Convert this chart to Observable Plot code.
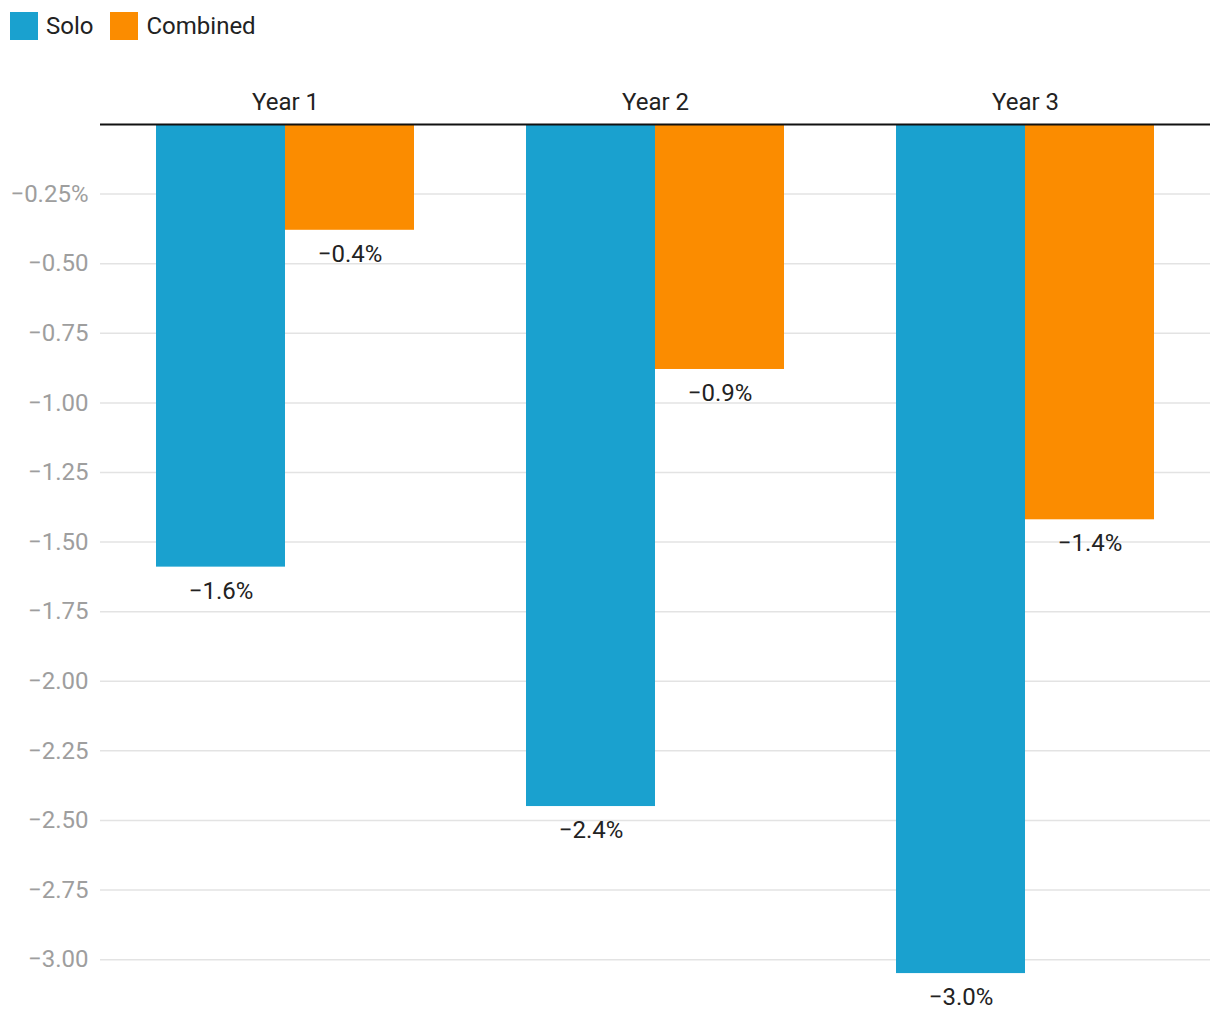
<!DOCTYPE html>
<html>
<head>
<meta charset="utf-8">
<script src="https://cdn.jsdelivr.net/npm/d3@7"></script>
<script src="https://cdn.jsdelivr.net/npm/@observablehq/plot@0.6"></script>
<style>
  html, body { margin: 0; padding: 0; background: #fff; font-family: Roboto, "Noto Sans", sans-serif; }
  #wrap { position: relative; width: 1220px; height: 1020px; }
  #legend { position: absolute; left: 10px; top: 12px; display: flex; align-items: center; font-size: 24px; color: #222; z-index: 2; line-height: 28px; }
  .item { display: flex; align-items: center; margin-right: 17px; }
  .sw { width: 28px; height: 28px; margin-right: 8px; }
  #chart { position: absolute; left: 0; top: 0; z-index: 1; }
</style>
</head>
<body>
<div id="wrap">
  <div id="legend"></div>
  <div id="chart"></div>
</div>
<script>
const years = ["Year 1", "Year 2", "Year 3"];
const seriesNames = ["Solo", "Combined"];
const colors = ["#1aa1cf", "#fb8c00"];
const soloValues = [-1.59, -2.45, -3.05];
const combinedValues = [-0.38, -0.88, -1.42];
const soloLabels = ["−1.6%", "−2.4%", "−3.0%"];
const combinedLabels = ["−0.4%", "−0.9%", "−1.4%"];
const yTicks = [-0.25, -0.5, -0.75, -1, -1.25, -1.5, -1.75, -2, -2.25, -2.5, -2.75, -3];

const data = [];
years.forEach((yr, i) => {
  data.push({year: yr, series: "Solo", value: soloValues[i], label: soloLabels[i]});
  data.push({year: yr, series: "Combined", value: combinedValues[i], label: combinedLabels[i]});
});

const fmt = v => {
  const s = Math.abs(v).toFixed(2);
  return (v < 0 ? "−" : "") + s + (v === -0.25 ? "%" : "");
};

const legend = document.getElementById("legend");
seriesNames.forEach((n, i) => {
  const it = document.createElement("div");
  it.className = "item";
  it.innerHTML = `<div class="sw" style="background:${colors[i]}"></div><span>${n}</span>`;
  legend.appendChild(it);
});

const chart = Plot.plot({
  width: 1220,
  height: 1020,
  marginLeft: 100,
  marginRight: 10,
  marginTop: 124,
  marginBottom: 33,
  style: {fontFamily: "Roboto, 'Noto Sans', sans-serif", fontSize: "24px", background: "transparent"},
  fx: {domain: years, padding: 0, label: null},
  x: {domain: seriesNames, paddingInner: 0, paddingOuter: 0.43, axis: null},
  y: {domain: [-3.1, 0], axis: null},
  color: {domain: seriesNames, range: colors},
  marks: [
    Plot.ruleY(yTicks, {stroke: "#e3e3e3", strokeWidth: 1.5}),
    Plot.axisY({ticks: yTicks, tickSize: 0, tickPadding: 12, tickFormat: fmt, fontSize: 24, fill: "#9e9e9e", label: null, anchor: "left"}),
    Plot.axisFx({anchor: "top", tickSize: 0, tickPadding: 15, fontSize: 24, fill: "#222", label: null}),
    Plot.barY(data, {fx: "year", x: "series", y: "value", fill: "series", inset: 0}),
    Plot.text(data, {fx: "year", x: "series", y: "value", text: "label", dy: 24, fontSize: 24, fill: "#222"}),
    Plot.ruleY([0], {stroke: "#111", strokeWidth: 2})
  ]
});
document.getElementById("chart").appendChild(chart);
</script>
</body>
</html>
